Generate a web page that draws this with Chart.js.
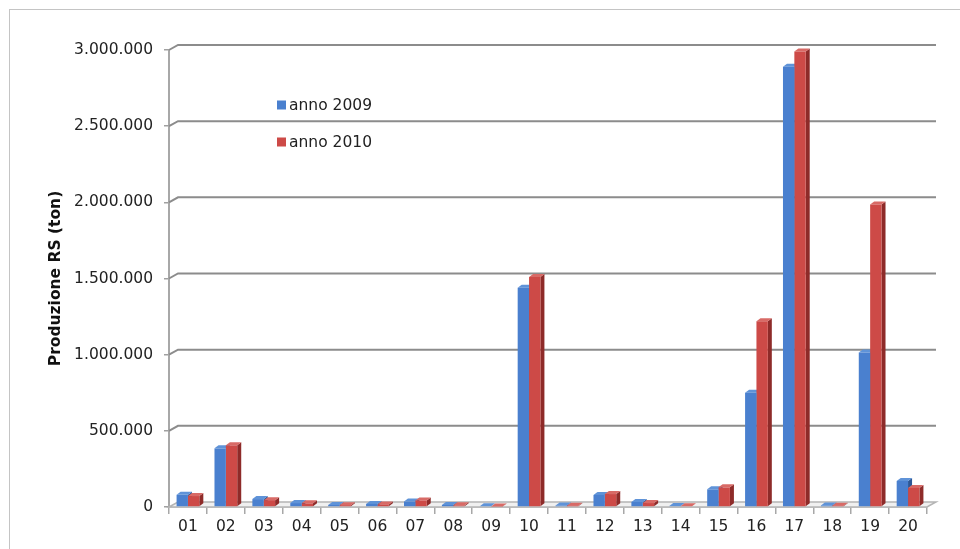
<!DOCTYPE html>
<html>
<head>
<meta charset="utf-8">
<title>Produzione RS</title>
<script src="https://cdn.jsdelivr.net/npm/chart.js@4"></script>
<style>
  html, body { margin: 0; padding: 0; background: #fff; }
  #wrap { width: 960px; height: 549px; position: relative; }
</style>
</head>
<body>
<div id="wrap"><canvas id="myChart" width="960" height="549"></canvas></div>
<script>
const categories = ['01','02','03','04','05','06','07','08','09','10','11','12','13','14','15','16','17','18','19','20'];
const anno2009 = [80000, 385000, 52000, 26000, 13000, 20000, 36000, 13000, 5000, 1440000, 10000, 79000, 33000, 6000, 116000, 750000, 2890000, 10000, 1015000, 171000];
const anno2010 = [72000, 405000, 45000, 24000, 12000, 17000, 43000, 11000, 4000, 1510000, 9000, 85000, 26000, 5000, 129000, 1220000, 2990000, 9000, 1985000, 125000];
const seriesLabels = ['anno 2009', 'anno 2010'];
const yTicks = [0, 500000, 1000000, 1500000, 2000000, 2500000, 3000000];

const FONT = 'DejaVu Sans, Verdana, sans-serif';
const DX = 9, DY = 5;   // depth of the back wall
const BX = 4, BY = 3;   // depth of each bar

function fmt(v) {
    return String(v).replace(/\B(?=(\d{3})+(?!\d))/g, '.');
}

// back wall gridlines, floor and border
const wall3d = {
    id: 'wall3d',
    beforeDraw(chart) {
        const c = chart.ctx;
        c.save();
        c.fillStyle = '#fff';
        c.fillRect(0, 0, chart.width, chart.height);
        c.strokeStyle = '#c4c4c4';
        c.lineWidth = 1;
        c.strokeRect(9.5, 9.5, 980, 580);
        c.restore();
    },
    beforeDatasetsDraw(chart) {
        const c = chart.ctx, a = chart.chartArea, y = chart.scales.y;
        c.save();
        // floor
        const y0 = y.getPixelForValue(0);
        c.fillStyle = '#f0f0f0';
        c.strokeStyle = '#b4b4b4';
        c.lineWidth = 1.5;
        c.beginPath();
        c.moveTo(a.left, y0);
        c.lineTo(a.left + DX, y0 - DY);
        c.lineTo(a.right + DX, y0 - DY);
        c.lineTo(a.right, y0);
        c.closePath();
        c.fill();
        c.stroke();
        // gridlines
        c.strokeStyle = '#8c8c8c';
        c.lineWidth = 2;
        for (const v of yTicks) {
            if (v === 0) continue;
            const py = y.getPixelForValue(v);
            c.beginPath();
            c.moveTo(a.left, py);
            c.lineTo(a.left + DX, py - DY);
            c.lineTo(a.right + DX, py - DY);
            c.stroke();
        }
        // side and top faces of the bars (behind the fronts)
        const sides = ['#2b5796', '#8e2b29'];
        const tops = ['#5f93d8', '#d86a66'];
        chart.data.datasets.forEach(function (ds, i) {
            const meta = chart.getDatasetMeta(i);
            meta.data.forEach(function (bar) {
                const l = bar.x - bar.width / 2, r = bar.x + bar.width / 2;
                c.fillStyle = sides[i];
                c.beginPath();
                c.moveTo(r, bar.y);
                c.lineTo(r + BX, bar.y - BY);
                c.lineTo(r + BX, bar.base - BY);
                c.lineTo(r, bar.base);
                c.closePath();
                c.fill();
                c.fillStyle = tops[i];
                c.beginPath();
                c.moveTo(l, bar.y);
                c.lineTo(l + BX, bar.y - BY);
                c.lineTo(r + BX, bar.y - BY);
                c.lineTo(r, bar.y);
                c.closePath();
                c.fill();
            });
        });
        c.restore();
    },
    afterDraw(chart) {
        // legend inside the plot
        const c = chart.ctx;
        c.save();
        c.font = '15.5px ' + FONT;
        c.textBaseline = 'middle';
        c.textAlign = 'left';
        const ys = [105, 142];
        chart.data.datasets.forEach(function (ds, i) {
            c.fillStyle = ds.backgroundColor;
            c.fillRect(277, ys[i] - 4.5, 9, 9);
            c.fillStyle = '#222';
            c.fillText(ds.label, 289, ys[i] + 1);
        });
        c.restore();
    }
};

new Chart(document.getElementById('myChart').getContext('2d'), {
    type: 'bar',
    data: {
        labels: categories,
        datasets: [
            { label: seriesLabels[0], data: anno2009, backgroundColor: '#4a80cf', borderWidth: 0 },
            { label: seriesLabels[1], data: anno2010, backgroundColor: '#cd4a47', borderWidth: 0 },
        ],
    },
    options: {
        responsive: false,
        animation: false,
        layout: { padding: { left: 10, right: 33, top: 50, bottom: 0 } },
        datasets: { bar: { categoryPercentage: 0.6, barPercentage: 1.0 } },
        plugins: { legend: { display: false }, tooltip: { enabled: false } },
        scales: {
            x: {
                grid: { drawOnChartArea: false, drawTicks: true, tickLength: 7, color: '#a8a8a8', lineWidth: 1.5, offset: true },
                border: { display: true, color: '#a8a8a8', width: 1.5 },
                ticks: { font: { family: FONT, size: 15.5 }, color: '#222', padding: 4, maxRotation: 0 },
                afterFit: function (s) { s.height = 42; },
            },
            y: {
                min: 0,
                max: 3000000,
                afterBuildTicks: function (s) { s.ticks = yTicks.map(v => ({ value: v })); },
                grid: { drawOnChartArea: false, drawTicks: true, tickLength: 5, color: '#a0a0a0', lineWidth: 1.5 },
                border: { display: true, color: '#a8a8a8', width: 2 },
                ticks: { font: { family: FONT, size: 15.5 }, color: '#222', padding: 11, callback: function (v) { return fmt(v); } },
                title: { display: true, text: 'Produzione RS (ton)', font: { family: FONT, size: 15.5, weight: 'bold' }, color: '#111', padding: { top: 37, bottom: 0 } },
                afterFit: function (s) { s.width = 159; },
            },
        },
    },
    plugins: [wall3d],
});
</script>
</body>
</html>
